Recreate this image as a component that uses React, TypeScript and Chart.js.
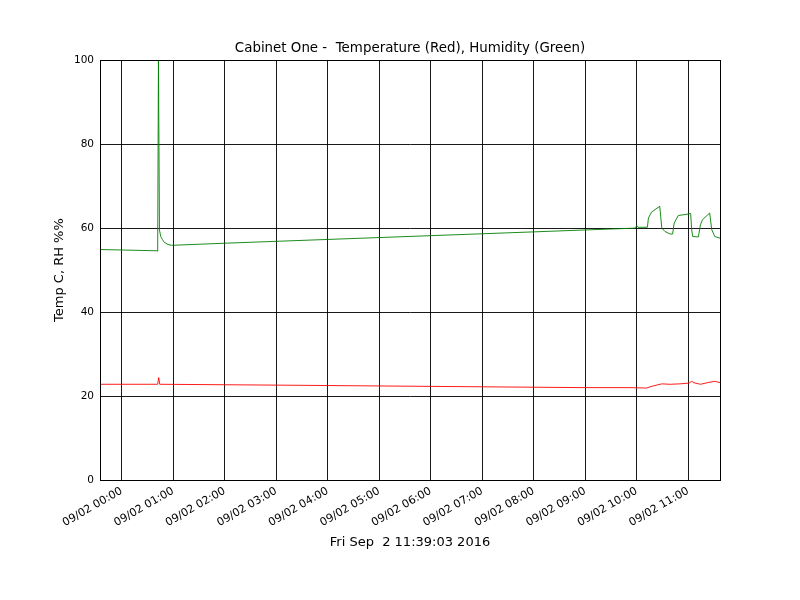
import React, { useEffect, useRef } from "react";
import { Chart, registerables } from "chart.js";

Chart.register(...registerables);

// Time in hours relative to 09/02 00:00
const humTime = [-0.42, 0.685, 0.70, 0.715, 0.735, 0.76, 0.79, 0.83, 0.9, 0.97, 2, 4, 6, 8, 9.98, 10.0, 10.03, 10.21, 10.23, 10.29, 10.45, 10.49, 10.55, 10.65, 10.70, 10.73, 10.81, 10.98, 11.05, 11.07, 11.09, 11.20, 11.24, 11.28, 11.42, 11.46, 11.52, 11.62];
const humValues = [54.9, 54.6, 54.5, 100, 59.5, 58.0, 57.3, 56.6, 56.1, 55.9, 56.4, 57.3, 58.2, 59.1, 60.0, 60.6, 60.2, 60.2, 62.4, 63.8, 65.2, 60.0, 59.2, 58.6, 58.6, 61.2, 63.0, 63.3, 63.5, 59.6, 58.0, 57.9, 60.8, 62.0, 63.6, 59.6, 58.0, 57.6];

const tempTime = [-0.42, 0.70, 0.72, 0.74, 3, 6, 9, 9.87, 10.19, 10.32, 10.49, 10.65, 10.84, 11.03, 11.07, 11.10, 11.24, 11.42, 11.52, 11.62];
const tempValues = [22.8, 22.8, 24.4, 22.8, 22.6, 22.3, 22.0, 22.0, 21.9, 22.4, 22.9, 22.8, 22.9, 23.1, 23.6, 23.2, 22.8, 23.3, 23.5, 23.2];

const hourTicks = [0, 1, 2, 3, 4, 5, 6, 7, 8, 9, 10, 11];
const hourLabels = ["09/02 00:00", "09/02 01:00", "09/02 02:00", "09/02 03:00", "09/02 04:00", "09/02 05:00", "09/02 06:00", "09/02 07:00", "09/02 08:00", "09/02 09:00", "09/02 10:00", "09/02 11:00"];

const xMin = -0.42;
const xMax = 11.62;

const titleText = "Cabinet One -  Temperature (Red), Humidity (Green)";
const yTitle = "Temp C, RH %%";
const xTitle = "Fri Sep  2 11:39:03 2016";

const align = (v: number) => Math.round(v - 0.5) + 0.5;

const framePlugin = {
  id: "frame",
  afterDraw(chart: any) {
    const { ctx, chartArea } = chart;
    const l = align(chartArea.left);
    const t = align(chartArea.top);
    const r = align(chartArea.right);
    const b = align(chartArea.bottom);
    ctx.save();
    ctx.strokeStyle = "#000";
    ctx.lineWidth = 1;
    ctx.strokeRect(l, t, r - l, b - t);
    ctx.restore();
  },
};

export default function App() {
  const ref = useRef<HTMLCanvasElement | null>(null);

  useEffect(() => {
    if (!ref.current) return;
    Chart.defaults.font.family = "DejaVu Sans";
    Chart.defaults.color = "#000";
    const chart = new Chart(ref.current, {
      type: "line",
      data: {
        datasets: [
          {
            label: "Humidity",
            data: humTime.map((t, i) => ({ x: t, y: humValues[i] })),
            borderColor: "#008000",
            borderWidth: 0.9,
            pointRadius: 0,
            fill: false,
            tension: 0,
          },
          {
            label: "Temperature",
            data: tempTime.map((t, i) => ({ x: t, y: tempValues[i] })),
            borderColor: "#ff0000",
            borderWidth: 0.9,
            pointRadius: 0,
            fill: false,
            tension: 0,
          },
        ],
      },
      options: {
        animation: false,
        responsive: false,
        layout: { padding: { left: 20, right: 0, top: 0, bottom: 0 } },
        plugins: {
          legend: { display: false },
          tooltip: { enabled: false },
          title: {
            display: true,
            text: titleText,
            color: "#000",
            font: { size: 13.4, weight: "normal", lineHeight: 1.2 },
            padding: { top: 40.5, bottom: 3.6 },
          },
        },
        scales: {
          x: {
            type: "linear",
            min: xMin,
            max: xMax,
            afterBuildTicks: (scale: any) => {
              scale.ticks = hourTicks.map((v) => ({ value: v }));
            },
            afterFit: (scale: any) => {
              scale.height = 120;
            },
            ticks: {
              autoSkip: false,
              minRotation: 30,
              maxRotation: 30,
              padding: 4.5,
              color: "#000",
              font: { size: 11 },
              callback: (v: any) => {
                const i = hourTicks.indexOf(Number(v));
                return i >= 0 ? hourLabels[i] : "";
              },
            },
            grid: { color: "rgba(0,0,0,0.9)", lineWidth: 1, drawTicks: false },
            border: { display: true, color: "#000", width: 1 },
            title: {
              display: true,
              text: xTitle,
              color: "#000",
              font: { size: 13, lineHeight: 1.2 },
              padding: { top: 0, bottom: 49.5 },
            },
          },
          y: {
            min: 0,
            max: 100,
            afterFit: (scale: any) => {
              scale.width = 80;
            },
            ticks: {
              stepSize: 20,
              padding: 6,
              color: "#000",
              font: { size: 10.5 },
            },
            grid: { color: "rgba(0,0,0,0.9)", lineWidth: 1, drawTicks: false },
            border: { display: true, color: "#000", width: 1 },
            title: {
              display: true,
              text: yTitle,
              color: "#000",
              font: { size: 13, lineHeight: 1.2 },
              padding: { top: 32, bottom: 0 },
            },
          },
          yRight: {
            position: "right",
            display: true,
            afterFit: (scale: any) => {
              scale.width = 80;
            },
            ticks: { display: false },
            grid: { display: false, drawTicks: false },
            border: { display: false },
            title: { display: false },
          },
        },
      },
      plugins: [framePlugin],
    });
    return () => chart.destroy();
  }, []);

  return (
    <div style={{ position: "absolute", left: 0, top: 0, width: 800, height: 600, background: "#fff" }}>
      <canvas ref={ref} width={800} height={600} />
    </div>
  );
}
